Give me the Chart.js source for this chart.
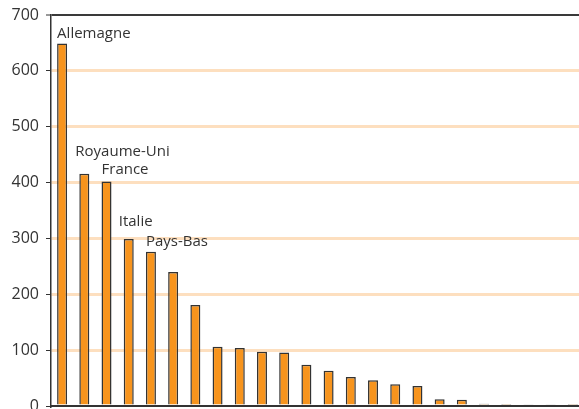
<!DOCTYPE html>
<html>
<head>
<meta charset="utf-8">
<script src="https://cdn.jsdelivr.net/npm/chart.js@4"></script>
<style>
  html, body { margin: 0; padding: 0; background: #fff; overflow: hidden; }
  #wrap { width: 584px; height: 409px; }
</style>
</head>
<body>
<div id="wrap"><canvas id="chart"></canvas></div>
<script>
// 24 countries, sorted; only the first five are named on the chart
const categories = ["Allemagne", "Royaume-Uni", "France", "Italie", "Pays-Bas",
    "", "", "", "", "", "", "", "", "", "", "", "", "", "", "", "", "", "", ""];
const values = [649, 416, 402, 299, 276, 240, 181, 106, 104, 97, 96, 74,
    63, 52, 46, 39, 36, 12, 11, 4, 3.5, 3, 2.3, 1.8];
const yTicks = [0, 100, 200, 300, 400, 500, 600, 700];
const namedBars = ["Allemagne", "Royaume-Uni", "France", "Italie", "Pays-Bas"];

const textColor = "#333333";
const fontFamily = "'Open Sans', sans-serif";

// where each name sits relative to its bar's top-left corner
const labelOffsets = [[0, 5], [-4, 18], [0, 7], [-5, 13], [0, 6]];

const barNames = {
    id: "barNames",
    afterDatasetsDraw(chart) {
        const ctx = chart.ctx;
        const meta = chart.getDatasetMeta(0);
        ctx.save();
        ctx.font = "15px " + fontFamily;
        ctx.fillStyle = textColor;
        ctx.textAlign = "left";
        ctx.textBaseline = "alphabetic";
        namedBars.forEach((name, i) => {
            const bar = meta.data[i];
            const [dx, dy] = labelOffsets[i];
            ctx.fillText(name, bar.x - bar.width / 2 + dx, bar.y - dy);
        });
        ctx.restore();
    }
};

new Chart(document.getElementById("chart"), {
    type: "bar",
    data: {
        labels: categories,
        datasets: [{
            data: values,
            backgroundColor: "#F7941D",
            borderColor: "#333333",
            borderWidth: 1.5,
            barPercentage: 0.9,
            categoryPercentage: 0.5
        }]
    },
    options: {
        responsive: true,
        maintainAspectRatio: false,
        animation: false,
        layout: { padding: { top: 15, bottom: 3, left: 0, right: 0 } },
        plugins: { legend: { display: false }, tooltip: { enabled: false } },
        scales: {
            x: {
                grid: { display: false, drawTicks: false },
                ticks: { display: false },
                border: { display: true, color: "#333333", width: 2 },
                afterFit: (scale) => { scale.height = 0; }
            },
            y: {
                min: 0,
                max: 700,
                afterBuildTicks: (scale) => { scale.ticks = yTicks.map(v => ({ value: v })); },
                afterFit: (scale) => {
                    scale.width = 51;
                    scale.paddingTop = 0;
                    scale.paddingBottom = 0;
                },
                border: { display: true, color: "#333333", width: 1.5 },
                grid: {
                    color: (c) => c.tick.value === 700 ? "#3a3a3a" : (c.tick.value === 0 ? "rgba(0,0,0,0)" : "#FDDFBF"),
                    lineWidth: (c) => c.tick.value === 700 ? 2 : 3,
                    tickColor: "#333333",
                    tickLength: 5,
                    tickWidth: 1
                },
                ticks: {
                    color: textColor,
                    padding: 7,
                    font: { family: fontFamily, size: 16 }
                }
            }
        }
    },
    plugins: [barNames]
});
</script>
</body>
</html>
